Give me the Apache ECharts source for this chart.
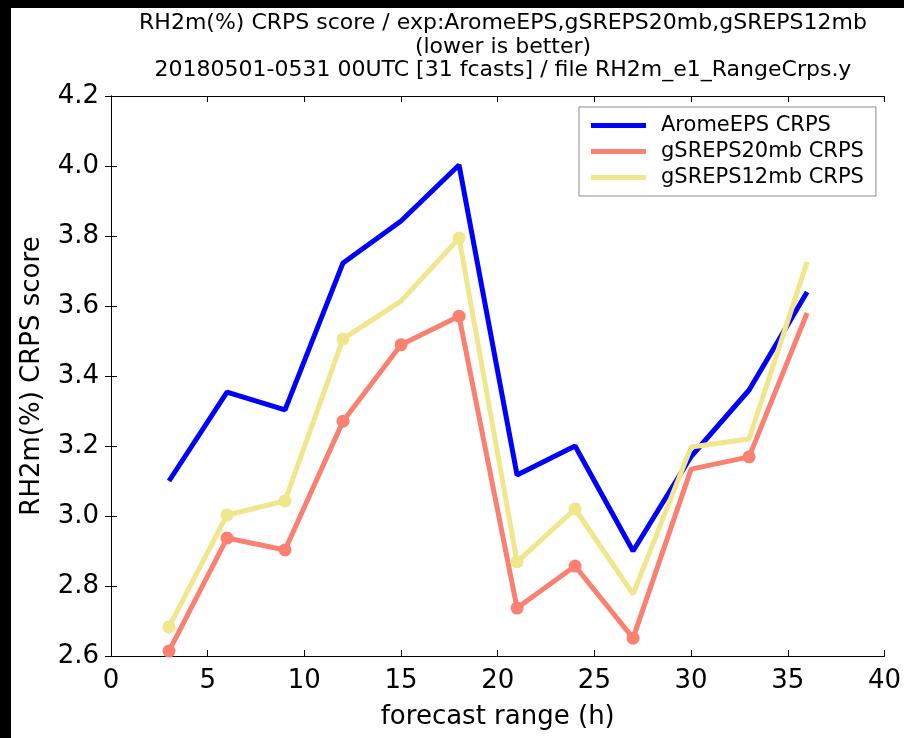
<!DOCTYPE html>
<html><head><meta charset="utf-8">
<script src="https://cdn.jsdelivr.net/npm/echarts@6/dist/echarts.min.js"></script>
<style>html,body{margin:0;padding:0;background:#fff}#c{width:904px;height:738px}</style>
</head><body><div id="c"></div>
<script>
var ranges = [3, 6, 9, 12, 15, 18, 21, 24, 27, 30, 33, 36];
var aromeEPS = [3.10, 3.354, 3.303, 3.723, 3.843, 4.003, 3.117, 3.20, 2.90, 3.17, 3.36, 3.64];
var gSREPS20mb = [2.614, 2.937, 2.903, 3.271, 3.489, 3.571, 2.737, 2.857, 2.651, 3.134, 3.169, 3.58];
var gSREPS12mb = [2.683, 3.003, 3.043, 3.506, 3.614, 3.794, 2.869, 3.02, 2.777, 3.197, 3.22, 3.726];
var aromeMarked = [0,0,0,0,0,0,0,0,0,0,0,0];
var g20Marked = [1,1,1,1,1,1,1,1,1,0,1,0];
var g12Marked = [1,1,1,1,0,1,1,1,0,0,0,0];
var seriesNames = ['AromeEPS CRPS', 'gSREPS20mb CRPS', 'gSREPS12mb CRPS'];
var colors = ['#0000ff', '#fa8072', '#f0e68c'];
var titleLines = ['RH2m(%) CRPS score / exp:AromeEPS,gSREPS20mb,gSREPS12mb', '(lower is better)', '20180501-0531 00UTC [31 fcasts] / file RH2m_e1_RangeCrps.y'];

var FONT = 'DejaVu Sans';
function build(vals, marks) {
  return vals.map(function (v, i) {
    return { value: [ranges[i], v], symbolSize: marks[i] ? 13 : 0 };
  });
}
var allVals = [aromeEPS, gSREPS20mb, gSREPS12mb];
var allMarks = [aromeMarked, g20Marked, g12Marked];
var series = seriesNames.map(function (n, k) {
  return {
    name: n, type: 'line', data: build(allVals[k], allMarks[k]),
    symbol: 'circle', showSymbol: true,
    lineStyle: { width: 5, color: colors[k] },
    itemStyle: { color: colors[k] },
    emphasis: { disabled: true }, animation: false, z: 3 + k
  };
});

var chart = echarts.init(document.getElementById('c'), null, { renderer: 'canvas' });
var tickStyle = { show: true, inside: true, length: 6, lineStyle: { color: '#000', width: 1 } };
chart.setOption({
  animation: false,
  backgroundColor: '#fff',
  textStyle: { fontFamily: FONT },
  title: {
    text: titleLines.join('\n'), left: 498, top: 7, textAlign: 'center',
    textStyle: { fontFamily: FONT, fontSize: 22, fontWeight: 'normal', color: '#000', lineHeight: 23.5 }
  },
  legend: {
    orient: 'vertical', left: 579, top: 107,
    padding: [8, 12, 8, 12], itemGap: 5, itemWidth: 55, itemHeight: 5,
    icon: 'rect', borderColor: '#8c8c8c', borderWidth: 1, backgroundColor: '#fff',
    textStyle: { fontFamily: FONT, fontSize: 21, color: '#000', padding: [0, 0, 0, 10] },
    data: seriesNames
  },
  grid: { left: 111, right: 18, top: 96, bottom: 82 },
  xAxis: [{
    type: 'value', min: 0, max: 40, interval: 5,
    name: 'forecast range (h)', nameLocation: 'middle', nameGap: 48,
    nameTextStyle: { fontFamily: FONT, fontSize: 26, color: '#000' },
    axisLine: { lineStyle: { color: '#000', width: 1 } },
    axisTick: tickStyle, splitLine: { show: false },
    axisLabel: { fontFamily: FONT, fontSize: 26, color: '#000', margin: 12 }
  }, {
    type: 'value', min: 0, max: 40, interval: 5, position: 'top',
    axisLine: { show: true, lineStyle: { color: '#000', width: 1 } },
    axisTick: tickStyle, axisLabel: { show: false }, splitLine: { show: false }
  }],
  yAxis: [{
    type: 'value', min: 2.6, max: 4.2, interval: 0.2,
    name: 'RH2m(%) CRPS score', nameLocation: 'middle', nameGap: 66, nameRotate: 90,
    nameTextStyle: { fontFamily: FONT, fontSize: 26, color: '#000' },
    axisLine: { show: true, lineStyle: { color: '#000', width: 1 } },
    axisTick: tickStyle, splitLine: { show: false },
    axisLabel: { fontFamily: FONT, fontSize: 26, color: '#000', margin: 12,
      formatter: function (v) { return v.toFixed(1); } }
  }, {
    type: 'value', min: 2.6, max: 4.2, interval: 0.2, position: 'right',
    axisLine: { show: true, lineStyle: { color: '#000', width: 1 } },
    axisTick: tickStyle, axisLabel: { show: false }, splitLine: { show: false }
  }],
  graphic: [
    { type: 'rect', shape: { x: 0, y: 0, width: 904, height: 8 }, style: { fill: '#000' }, z: 100 },
    { type: 'rect', shape: { x: 0, y: 0, width: 11, height: 738 }, style: { fill: '#000' }, z: 100 }
  ],
  series: series
});
</script></body></html>
